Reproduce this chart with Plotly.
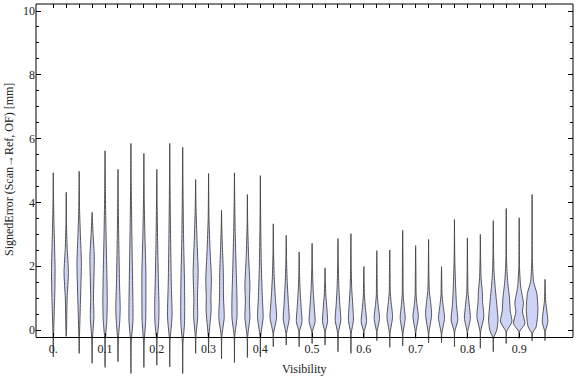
import plotly.graph_objects as go

# ---------------- data ----------------
visibility = [0.0, 0.025, 0.05, 0.075, 0.1, 0.125, 0.15, 0.175, 0.2, 0.225,
              0.25, 0.275, 0.3, 0.325, 0.35, 0.375, 0.4, 0.425, 0.45, 0.475,
              0.5, 0.525, 0.55, 0.575, 0.6, 0.625, 0.65, 0.675, 0.7, 0.725,
              0.75, 0.775, 0.8, 0.825, 0.85, 0.875, 0.9, 0.925, 0.95]

err_max = [4.93, 4.32, 4.98, 3.69, 5.62, 5.04, 5.85, 5.54, 5.04, 5.85,
           5.73, 4.72, 4.91, 3.76, 4.93, 4.25, 4.84, 3.33, 2.97, 2.45,
           2.72, 1.95, 2.87, 3.02, 1.99, 2.49, 2.51, 3.13, 2.65, 2.84,
           1.99, 3.47, 2.89, 3.00, 3.43, 3.81, 3.52, 4.25, 1.59]

err_min = [-0.84, -0.20, -0.73, -1.04, -1.17, -0.99, -1.36, -1.17, -1.10, -1.15,
           -1.36, -0.73, -0.71, -0.90, -1.02, -0.86, -0.84, -0.52, -0.47, -0.52,
           -0.42, -0.47, -0.68, -0.73, -0.26, -0.33, -0.54, -0.50, -0.26, -0.40,
           -0.39, -0.52, -0.26, -0.57, -0.68, -0.42, -0.26, -0.33, -0.33]

# density profile knots (signed error value, relative density) for each violin
profile_err = [
    [-0.2, 0.5, 1.3, 1.9, 2.6, 3.3, 4.0],
    [0.0, 1.0, 1.8, 2.6, 3.3],
    [-0.2, 0.8, 2.1, 3.0, 3.8],
    [-0.3, 0.4, 1.0, 2.3, 3.0],
    [-0.3, 0.3, 0.9, 1.8, 3.0, 4.2],
    [-0.3, 0.3, 0.7, 1.5, 2.8, 3.8],
    [-0.4, 0.3, 0.8, 2.0, 3.5, 4.6],
    [-0.4, 0.3, 1.0, 1.8, 3.0, 4.2],
    [-0.3, 0.2, 0.7, 1.5, 2.8, 4.0],
    [-0.3, 0.2, 0.5, 1.5, 3.0, 4.5],
    [-0.4, 0.2, 0.7, 1.5, 3.0, 4.5],
    [-0.2, 0.4, 1.0, 1.8, 2.8, 3.8],
    [-0.2, 0.6, 1.0, 1.6, 2.5, 3.5],
    [-0.2, 0.4, 1.0, 1.8, 2.6, 3.2],
    [-0.2, 0.4, 1.0, 1.8, 3.0, 4.0],
    [-0.2, 0.4, 0.9, 1.4, 2.3, 3.3],
    [-0.2, 0.4, 1.0, 2.0, 3.2],
    [-0.1, 0.4, 0.9, 1.6, 2.4],
    [-0.1, 0.35, 0.8, 1.5, 2.2],
    [-0.05, 0.26, 0.7, 1.2, 1.8],
    [-0.05, 0.26, 0.7, 1.3, 2.0],
    [-0.05, 0.26, 0.7, 1.1, 1.5],
    [-0.1, 0.31, 0.8, 1.4, 2.1],
    [-0.1, 0.31, 0.8, 1.3, 2.0],
    [-0.05, 0.26, 0.7, 1.1, 1.5],
    [-0.05, 0.37, 0.8, 1.1, 1.7],
    [-0.1, 0.42, 0.9, 1.2, 1.8],
    [-0.1, 0.37, 0.8, 1.1, 2.0],
    [-0.05, 0.42, 0.8, 1.1, 1.8],
    [-0.1, 0.47, 0.9, 1.2, 1.8],
    [-0.1, 0.37, 0.8, 1.1, 1.5],
    [-0.05, 0.31, 0.8, 1.5, 2.3],
    [-0.05, 0.37, 0.8, 1.2, 1.8],
    [-0.05, 0.42, 0.9, 1.2, 1.6, 2.2],
    [-0.25, 0.0, 0.31, 0.8, 1.3, 1.8, 2.4],
    [-0.05, 0.26, 0.6, 1.0, 1.5, 2.2],
    [-0.05, 0.2, 0.57, 0.84, 1.36, 2.0],
    [-0.1, 0.1, 0.63, 1.15, 1.52, 2.2],
    [-0.05, 0.26, 0.6, 0.9, 1.2],
]
profile_density = [
    [0.3, 0.9, 1.6, 1.8, 1.3, 0.7, 0.3],
    [0.3, 0.9, 2.2, 0.9, 0.3],
    [0.3, 1.2, 2.2, 1.2, 0.4],
    [0.3, 1.8, 1.4, 2.2, 1.0],
    [0.3, 1.8, 2.2, 1.8, 1.0, 0.4],
    [0.3, 1.8, 2.2, 1.5, 0.8, 0.3],
    [0.3, 2.0, 2.0, 1.4, 0.7, 0.3],
    [0.3, 1.8, 2.0, 2.0, 1.0, 0.3],
    [0.3, 1.8, 2.2, 1.6, 0.8, 0.3],
    [0.3, 1.8, 2.3, 1.5, 0.8, 0.3],
    [0.3, 1.8, 2.0, 1.8, 0.8, 0.3],
    [0.3, 2.0, 1.8, 2.5, 1.4, 0.4],
    [0.3, 2.5, 2.3, 2.8, 1.5, 0.4],
    [0.3, 2.7, 2.0, 1.8, 0.9, 0.3],
    [0.3, 2.5, 2.5, 1.8, 0.8, 0.3],
    [0.3, 2.5, 2.0, 2.5, 1.2, 0.3],
    [0.3, 2.8, 2.0, 1.0, 0.4],
    [0.3, 3.3, 2.3, 1.0, 0.3],
    [0.3, 3.0, 2.2, 1.0, 0.3],
    [0.3, 2.8, 2.0, 1.0, 0.3],
    [0.3, 3.0, 2.2, 1.0, 0.3],
    [0.3, 2.5, 1.8, 0.8, 0.3],
    [0.3, 2.8, 1.8, 0.8, 0.3],
    [0.3, 2.5, 1.8, 0.8, 0.3],
    [0.3, 2.7, 1.5, 0.5, 0.3],
    [0.3, 2.7, 1.3, 0.5, 0.3],
    [0.3, 2.8, 1.3, 0.5, 0.3],
    [0.3, 2.5, 1.3, 0.5, 0.3],
    [0.3, 2.7, 1.3, 0.5, 0.3],
    [0.3, 3.0, 2.0, 0.8, 0.3],
    [0.3, 3.0, 1.5, 0.5, 0.3],
    [0.3, 3.3, 2.0, 1.0, 0.3],
    [0.3, 3.0, 1.8, 0.6, 0.3],
    [0.3, 3.5, 2.2, 2.0, 0.8, 0.3],
    [0.3, 3.5, 4.7, 3.5, 2.0, 0.8, 0.3],
    [0.3, 5.7, 4.0, 3.3, 1.5, 0.3],
    [0.3, 5.7, 3.3, 4.3, 1.5, 0.3],
    [0.3, 4.0, 5.8, 4.7, 1.5, 0.3],
    [0.3, 2.8, 1.8, 0.6, 0.3],
]

x_tick_vals = [0.0, 0.1, 0.2, 0.3, 0.4, 0.5, 0.6, 0.7, 0.8, 0.9]
x_tick_text = ["0.", "0.1", "0.2", "0.3", "0.4", "0.5", "0.6", "0.7", "0.8", "0.9"]
y_tick_vals = [0, 2, 4, 6, 8, 10]
y_tick_text = ["0", "2", "4", "6", "8", "10"]
y_minor_vals = [0.5 * k for k in range(21) if k % 4 != 0]

# ---------------- layout geometry / style ----------------
W, H = 576, 377
ML, MR, MT, MB = 36, 3, 4, 0
X_RANGE = [-0.0334, 1.004]
Y_RANGE = [-1.47, 10.22]
X_AXIS_AT = -0.22           # y value where the bottom frame line sits
plot_w = W - ML - MR
plot_h = H - MT - MB
dens_scale = (X_RANGE[1] - X_RANGE[0]) / plot_w   # density unit -> x units
axis_pos = (X_AXIS_AT - Y_RANGE[0]) / (Y_RANGE[1] - Y_RANGE[0])

FILL = "rgb(204,211,245)"
EDGE = "rgba(60,60,60,0.85)"
FONT = "Liberation Serif"
TXT = "#222222"

fig = go.Figure()

for xc, lo, hi, ky, kw in zip(visibility, err_min, err_max, profile_err, profile_density):
    ys = [lo] + ky + [hi]
    ws = [0.0] + kw + [0.0]
    right_x = [xc + w * dens_scale for w in ws]
    left_x = [xc - w * dens_scale for w in ws[::-1]]
    fig.add_trace(go.Scatter(
        x=right_x + left_x,
        y=ys + ys[::-1],
        mode="lines",
        fill="toself",
        fillcolor=FILL,
        line=dict(color=EDGE, width=1, shape="spline", smoothing=0.6),
        hoverinfo="skip",
        showlegend=False,
    ))

# dummy trace so the top (mirror) axis is drawn
fig.add_trace(go.Scatter(x=[None], y=[None], xaxis="x2", showlegend=False, hoverinfo="skip"))

fig.update_layout(
    width=W, height=H,
    margin=dict(l=ML, r=MR, t=MT, b=MB, autoexpand=False),
    paper_bgcolor="white",
    plot_bgcolor="white",
    font=dict(family=FONT, size=12, color=TXT),
    xaxis=dict(
        range=X_RANGE, anchor="free", position=axis_pos, automargin=False,
        showgrid=False, zeroline=False,
        showline=True, linecolor="black", linewidth=1,
        tickmode="array", tickvals=x_tick_vals, ticktext=x_tick_text,
        ticks="inside", ticklen=4, tickcolor="black",
        tickfont=dict(family=FONT, size=12, color=TXT),
    ),
    xaxis2=dict(
        range=X_RANGE, overlaying="x", side="top", anchor="y", automargin=False,
        showgrid=False, zeroline=False, showline=False,
        tickmode="array", tickvals=visibility,
        ticks="inside", ticklen=4, tickcolor="black",
        showticklabels=False,
    ),
    yaxis=dict(
        range=Y_RANGE, automargin=False,
        showgrid=False, zeroline=False, showline=False,
        tickmode="array", tickvals=y_tick_vals, ticktext=y_tick_text,
        ticks="inside", ticklen=5, tickcolor="black", mirror="ticks",
        tickfont=dict(family=FONT, size=12, color=TXT),
        minor=dict(tickmode="array", tickvals=y_minor_vals, ticks="inside",
                   ticklen=3, tickcolor="black"),
    ),
    shapes=[
        dict(type="line", xref="paper", yref="paper", x0=0, x1=0, y0=axis_pos, y1=1,
             line=dict(color="black", width=1)),
        dict(type="line", xref="paper", yref="paper", x0=1, x1=1, y0=axis_pos, y1=1,
             line=dict(color="black", width=1)),
        dict(type="line", xref="paper", yref="paper", x0=0, x1=1, y0=1, y1=1,
             line=dict(color="black", width=1)),
    ],
    annotations=[
        dict(text="Visibility", xref="paper", yref="paper",
             x=(304 - ML) / plot_w, y=(H - 369) / plot_h,
             xanchor="center", yanchor="middle", showarrow=False,
             font=dict(family=FONT, size=12, color=TXT)),
        dict(text="SignedError (Scan\u2192Ref, OF) [mm]", xref="paper", yref="paper",
             x=(9 - ML) / plot_w, y=(H - 170) / plot_h, textangle=-90,
             xanchor="center", yanchor="middle", showarrow=False,
             font=dict(family=FONT, size=12, color=TXT)),
    ],
)

fig.write_html(
    "out.html",
    config={"displayModeBar": False},
    post_script="document.body.style.margin='0';document.body.style.overflow='hidden';",
)
